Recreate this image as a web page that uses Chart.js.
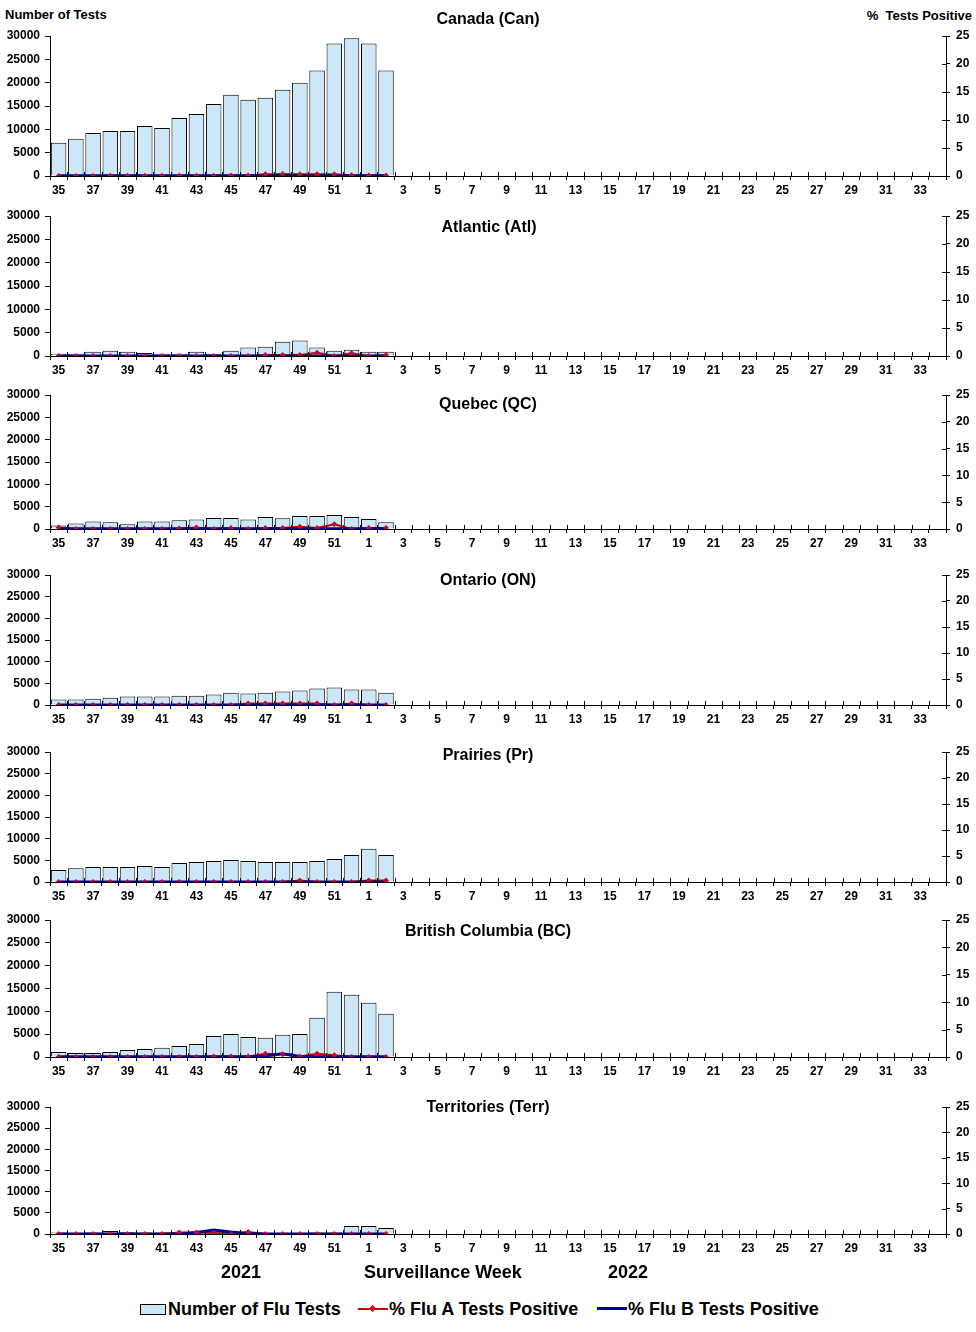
<!DOCTYPE html>
<html>
<head>
<meta charset="utf-8">
<script src="https://cdn.jsdelivr.net/npm/chart.js@4"></script>
<style>
  body { margin: 0; background: #fff; }
  #page { position: relative; width: 976px; height: 1332px; font-family: "Liberation Sans", Arial, sans-serif; font-weight: bold; color: #000; }
  canvas { position: absolute; left: 0; }
  .lbl { position: absolute; white-space: nowrap; transform: translate(-50%, -50%); }
  .ttl { font-size: 16px; }
  .leg { position: absolute; font-size: 18px; white-space: nowrap; transform: translateY(-50%); }
</style>
</head>
<body>
<div id="page">
  <div style="position:absolute;left:5px;top:7px;font-size:13px;">Number of Tests</div>
  <div style="position:absolute;right:4px;top:8px;font-size:13px;">%&nbsp; Tests Positive</div>

  <canvas id="can" width="976" height="181" style="top:25px"></canvas>
  <canvas id="atl" width="976" height="181" style="top:205px"></canvas>
  <canvas id="qc" width="976" height="175" style="top:384px"></canvas>
  <canvas id="on" width="976" height="171" style="top:564px"></canvas>
  <canvas id="pr" width="976" height="171" style="top:741px"></canvas>
  <canvas id="bc" width="976" height="178" style="top:909px"></canvas>
  <canvas id="terr" width="976" height="168" style="top:1096px"></canvas>

  <div class="lbl ttl" style="left:488px;top:19px">Canada (Can)</div>
  <div class="lbl ttl" style="left:489px;top:227px">Atlantic (Atl)</div>
  <div class="lbl ttl" style="left:488px;top:404px">Quebec (QC)</div>
  <div class="lbl ttl" style="left:488px;top:580px">Ontario (ON)</div>
  <div class="lbl ttl" style="left:488px;top:755px">Prairies (Pr)</div>
  <div class="lbl ttl" style="left:488px;top:931px">British Columbia (BC)</div>
  <div class="lbl ttl" style="left:488px;top:1107px">Territories (Terr)</div>

  <div class="lbl" style="left:241px;top:1272px;font-size:18px">2021</div>
  <div class="lbl" style="left:443px;top:1272px;font-size:18px">Surveillance Week</div>
  <div class="lbl" style="left:628px;top:1272px;font-size:18px">2022</div>

  <div style="position:absolute;left:140px;top:1304px;width:24px;height:9px;background:#cce8f8;border:1px solid #000"></div>
  <div class="leg" style="left:168px;top:1309px">Number of Flu Tests</div>
  <div style="position:absolute;left:358px;top:1308px;width:30px;height:2px;background:#cc0000"></div>
  <div style="position:absolute;left:370px;top:1306px;width:5px;height:5px;background:#cc0033;transform:rotate(45deg)"></div>
  <div class="leg" style="left:389px;top:1309px">% Flu A Tests Positive</div>
  <div style="position:absolute;left:597px;top:1307px;width:30px;height:3px;background:#0000a0"></div>
  <div class="leg" style="left:628px;top:1309px">% Flu B Tests Positive</div>
</div>
<script>
// surveillance weeks 2021-35 .. 2022-34
var weeks = [35,36,37,38,39,40,41,42,43,44,45,46,47,48,49,50,51,52,
  1,2,3,4,5,6,7,8,9,10,11,12,13,14,15,16,17,18,19,20,21,22,23,24,25,26,27,28,29,30,31,32,33,34];

// number of flu tests and % positive, weeks 35..52, 1, 2
var canTests = [7100,8000,9200,9650,9650,10700,10300,12450,13300,15450,17400,16350,16750,18500,20000,22600,28400,29500,28400,22600];
var canFluA  = [0.02,0.02,0.02,0.03,0.03,0.03,0.03,0.04,0.05,0.06,0.07,0.1,0.3,0.35,0.3,0.3,0.3,0.15,0.1,0.1];
var canFluB  = [0.05,0.05,0.05,0.05,0.05,0.05,0.05,0.05,0.05,0.05,0.05,0.05,0.05,0.05,0.05,0.05,0.05,0.05,0.05,0.05];

var atlTests = [500,500,900,1150,900,650,500,500,900,450,1150,1800,2000,3050,3300,1800,1150,1350,900,900];
var atlFluA  = [0,0,0,0,0,0,0,0,0,0,0,0,0.2,0.2,0.2,0.6,0,0.5,0,0.2];
var atlFluB  = [0,0,0,0,0,0,0,0,0,0,0,0,0,0,0,0,0,0,0,0];

var qcTests = [800,1250,1700,1500,1050,1700,1700,1950,2150,2450,2450,2150,2700,2400,2900,2900,3150,2700,2250,1500];
var qcFluA  = [0.3,0,0,0,0,0,0,0.1,0.3,0,0.2,0,0.2,0.2,0.4,0.2,0.9,0,0.2,0.2];
var qcFluB  = [0.05,0.05,0.05,0.05,0.05,0.05,0.05,0.05,0.05,0.05,0.05,0.05,0.05,0.05,0.05,0.05,0.05,0.05,0.05,0.05];

var onTests = [1250,1250,1450,1700,1950,1950,1950,2150,2150,2400,2850,2650,2850,3100,3350,3800,4050,3550,3550,2850];
var onFluA  = [0,0,0,0,0,0,0,0,0,0,0,0.3,0.3,0.3,0.3,0.3,0,0.3,0,0];
var onFluB  = [0,0,0,0,0,0,0,0,0,0,0,0,0,0,0,0,0,0,0,0];

var prTests = [2750,3200,3450,3450,3450,3700,3450,4400,4600,4850,5100,4850,4600,4600,4600,4850,5300,6250,7650,6250];
var prFluA  = [0,0,0,0,0,0,0,0,0,0,0,0,0,0,0.3,0,0,0,0.3,0.3];
var prFluB  = [0,0,0,0,0,0,0,0,0,0,0,0,0,0,0,0,0,0,0,0];

var bcTests = [1100,900,900,1100,1550,1750,2000,2400,2850,4600,5050,4400,4200,4850,5050,8600,14300,13650,11900,9450];
var bcFluA  = [0,0,0,0,0,0,0,0,0,0.1,0.1,0.1,0.6,0.5,0.1,0.6,0.3,0,0,0];
var bcFluB  = [0.05,0.05,0.05,0.05,0.05,0.05,0.05,0.05,0.05,0.05,0.05,0.05,0.2,0.6,0.1,0.05,0.05,0.05,0.05,0.05];

var terrTests = [350,300,350,700,400,350,350,450,400,550,550,400,300,300,300,350,350,1900,1900,1400];
var terrFluA  = [0,0,0,0,0,0,0,0.3,0.3,0.2,0,0.4,0,0,0,0,0,0,0,0];
var terrFluB  = [0,0,0,0,0,0,0,0,0.3,0.8,0.4,0.1,0,0,0,0,0,0,0,0];

var tickFont = { family: "'Liberation Sans', Arial, sans-serif", size: 12, weight: 'bold', lineHeight: 1 };
var rightFont = { family: "'Liberation Sans', Arial, sans-serif", size: 12, weight: 'bold', lineHeight: 0.8 };

// excel style tick marks that cross the x axis and the right axis
var crossTicks = {
  id: 'crossTicks',
  afterDraw: function (chart) {
    var a = chart.chartArea, c = chart.ctx;
    var n = weeks.length, w = (a.right - a.left) / n;
    c.save();
    c.strokeStyle = '#000';
    c.lineWidth = 1;
    c.beginPath();
    for (var i = 0; i <= n; i++) {
      var x = Math.round(a.left + i * w) + 0.5;
      c.moveTo(x, a.bottom - 4);
      c.lineTo(x, a.bottom);
    }
    chart.scales.y1.ticks.forEach(function (t) {
      var y = Math.round(chart.scales.y1.getPixelForValue(t.value)) + 0.5;
      c.moveTo(a.right - 4, y);
      c.lineTo(a.right, y);
    });
    c.stroke();
    c.restore();
  }
};

function makePanel(id, tests, fluA, fluB) {
  var ctx = document.getElementById(id).getContext('2d');
  return new Chart(ctx, {
    type: 'bar',
    data: {
      labels: weeks,
      datasets: [{
        type: 'line',
        label: '% Flu A Tests Positive',
        data: fluA,
        yAxisID: 'y1',
        showLine: false,
        backgroundColor: '#cc0033',
        pointStyle: 'rectRot',
        pointRadius: 3,
        pointBorderWidth: 0,
        order: 1
      }, {
        type: 'line',
        label: '% Flu B Tests Positive',
        data: fluB,
        yAxisID: 'y1',
        borderColor: '#0000a0',
        borderWidth: 3,
        pointRadius: 0,
        order: 2
      }, {
        type: 'line',
        label: '% Flu A line',
        data: fluA,
        yAxisID: 'y1',
        borderColor: '#cc0000',
        borderWidth: 2,
        pointRadius: 0,
        order: 3
      }, {
        label: 'Number of Flu Tests',
        data: tests,
        yAxisID: 'y',
        backgroundColor: '#cce8f8',
        borderColor: '#000',
        borderWidth: 1,
        barPercentage: 0.9,
        categoryPercentage: 1,
        order: 4
      }]
    },
    options: {
      responsive: false,
      animation: false,
      devicePixelRatio: 1,
      layout: { padding: { top: 11, left: 0, right: 0, bottom: 0 } },
      plugins: { legend: { display: false }, tooltip: { enabled: false } },
      scales: {
        x: {
          offset: true,
          grid: { offset: true, drawOnChartArea: false, tickLength: 4, color: '#000' },
          border: { color: '#000' },
          ticks: {
            autoSkip: false, maxRotation: 0, color: '#000', font: tickFont, padding: 5,
            callback: function (v, i) { return i % 2 === 0 ? weeks[i] : ''; }
          },
          afterFit: function (s) { s.height = 30; }
        },
        y: {
          position: 'left', min: 0, max: 30000,
          grid: { drawOnChartArea: false, tickLength: 5, color: '#000' },
          border: { color: '#000' },
          ticks: { stepSize: 5000, color: '#000', font: tickFont, padding: 5,
            callback: function (v) { return String(v); } },
          afterFit: function (s) { s.width = 50; }
        },
        y1: {
          position: 'right', min: 0, max: 25,
          grid: { drawOnChartArea: false, tickLength: 4, color: '#000' },
          border: { color: '#000' },
          ticks: { stepSize: 5, color: '#000', font: rightFont, padding: 6 },
          afterFit: function (s) { s.width = 30; }
        }
      }
    },
    plugins: [crossTicks]
  });
}

makePanel('can', canTests, canFluA, canFluB);
makePanel('atl', atlTests, atlFluA, atlFluB);
makePanel('qc', qcTests, qcFluA, qcFluB);
makePanel('on', onTests, onFluA, onFluB);
makePanel('pr', prTests, prFluA, prFluB);
makePanel('bc', bcTests, bcFluA, bcFluB);
makePanel('terr', terrTests, terrFluA, terrFluB);
</script>
</body>
</html>
